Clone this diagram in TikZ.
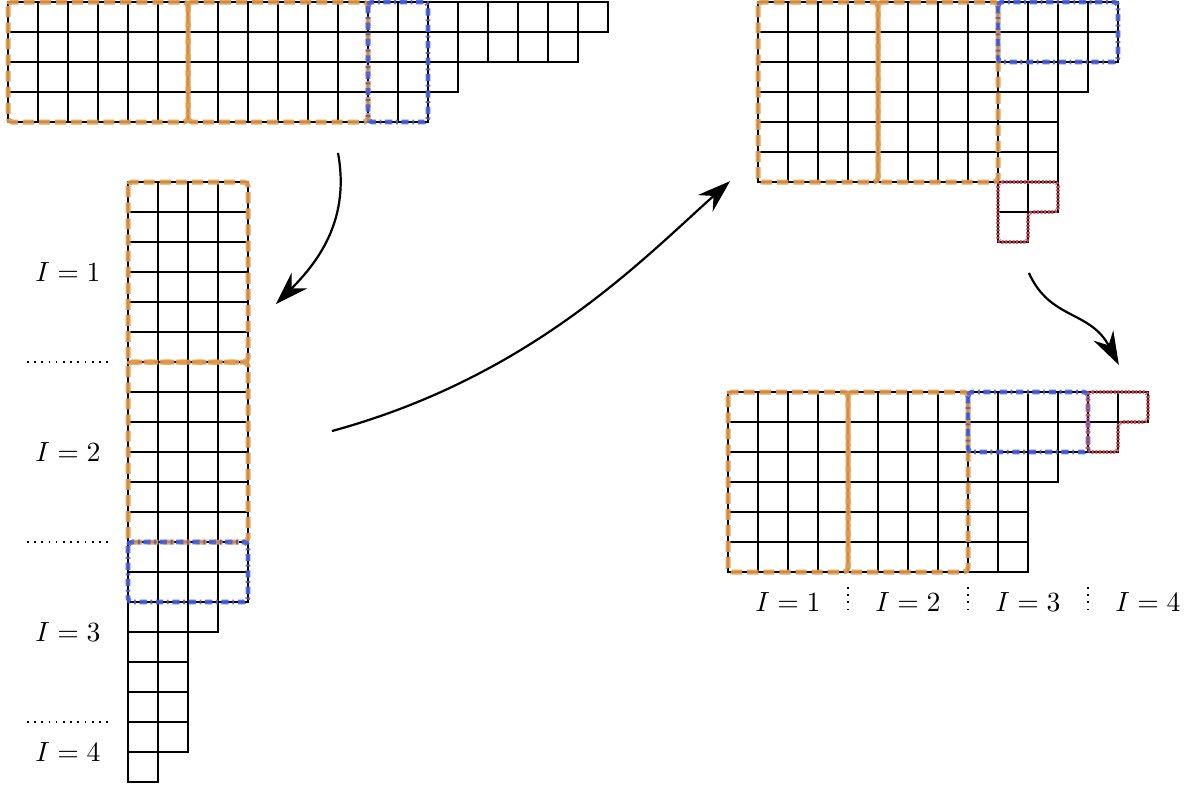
\documentclass[tikz,border=0pt]{standalone}
\usepackage{tikz}
\usetikzlibrary{arrows.meta}
\definecolor{yorange}{HTML}{E39A4A}
\definecolor{yblue}{HTML}{465FE1}
\definecolor{yred}{HTML}{E04C58}
\tikzset{
  cellbox/.style={draw=black,line width=0.4pt},
  obox/.style={draw=yorange,draw opacity=0.9,line width=1.8pt,rounded corners=1.5pt,dash pattern=on 4pt off 1.8pt},
  bbox/.style={draw=yblue,draw opacity=0.9,line width=1.7pt,rounded corners=1.5pt,dash pattern=on 2.6pt off 1.3pt on 0.7pt off 1.3pt},
  rbox/.style={draw=yred,draw opacity=0.9,line width=1.3pt,rounded corners=1.5pt,dash pattern=on 0.7pt off 0.6pt},
  arr/.style={-{Stealth[length=12pt,width=8pt,inset=4pt]},line width=0.8pt},
  sep/.style={dotted,line width=0.6pt},
  lbl/.style={inner sep=0pt},
}
\newcommand{\youngcells}[3]{%
  \foreach \rowlen [count=\rw] in {#3} {
    \foreach \cl in {1,...,\rowlen}
      \draw[cellbox] ({#1+\cl-1},{#2+\rw-1}) rectangle ++(1,1);
  }%
}
\begin{document}
\begin{tikzpicture}[x=0.38cm,y=-0.38cm]
  \path[fill=white,use as bounding box] (-0.267,-0.067) rectangle (39.7,26.167);
  \youngcells{0}{0}{20,19,15,14}
  \youngcells{4}{6}{4,4,4,4,4,4,4,4,4,4,4,4,4,4,3,2,2,2,2,1}
  \youngcells{25}{0}{8,8,8,8,8,8}
  \youngcells{33}{0}{4,4,3,2,2,2,2,1}
  \youngcells{24}{13}{14,13,11,10,10,10}
  \draw[obox] (0,0) rectangle (6,4);
  \draw[obox] (6,0) rectangle (12,4);
  \draw[bbox] (12,0) rectangle (14,4);
  \draw[obox] (4,6) rectangle (8,12);
  \draw[obox] (4,12) rectangle (8,18);
  \draw[bbox] (4,18) rectangle (8,20);
  \draw[obox] (25,0) rectangle (29,6);
  \draw[obox] (29,0) rectangle (33,6);
  \draw[bbox] (33,0) rectangle (37,2);
  \draw[rbox] (33,6) -- (35,6) -- (35,7) -- (34,7) -- (34,8) -- (33,8) -- cycle;
  \draw[obox] (24,13) rectangle (28,19);
  \draw[obox] (28,13) rectangle (32,19);
  \draw[bbox] (32,13) rectangle (36,15);
  \draw[rbox] (36,13) -- (38,13) -- (38,14) -- (37,14) -- (37,15) -- (36,15) -- cycle;
  \foreach \yy in {12,18,24}
    \draw[sep] (0.63,\yy) -- (3.5,\yy);
  \foreach \ix/\yy in {1/9,2/15,3/21,4/25}
    \node[lbl] (l\ix) at (2,\yy) {$I=\ix$};
  \foreach \ix in {1,...,4}
    \node[lbl] (b\ix) at (22+4*\ix,20) {$I=\ix$};
  \foreach \xx in {28,32,36}
    \draw[sep] (\xx,19.5) -- (\xx,20.4);
  \coordinate (a1s) at (11,5.03);
  \coordinate (a1e) at (8.93,10.07);
  \coordinate (a2s) at (10.8,14.3);
  \coordinate (a2e) at (24.07,5.97);
  \coordinate (a3s) at (34.03,9.03);
  \coordinate (a3e) at (37.03,12.1);
  \draw[arr] (a1s) .. controls (11.4,7.2) and (10.4,8.6) .. (a1e);
  \draw[arr] (a2s) .. controls (17.4,12.5) and (21.1,8.63) .. (a2e);
  \draw[arr] (a3s) .. controls (34.73,10.6) and (36.07,10.27) .. (a3e);
\end{tikzpicture}
\end{document}
